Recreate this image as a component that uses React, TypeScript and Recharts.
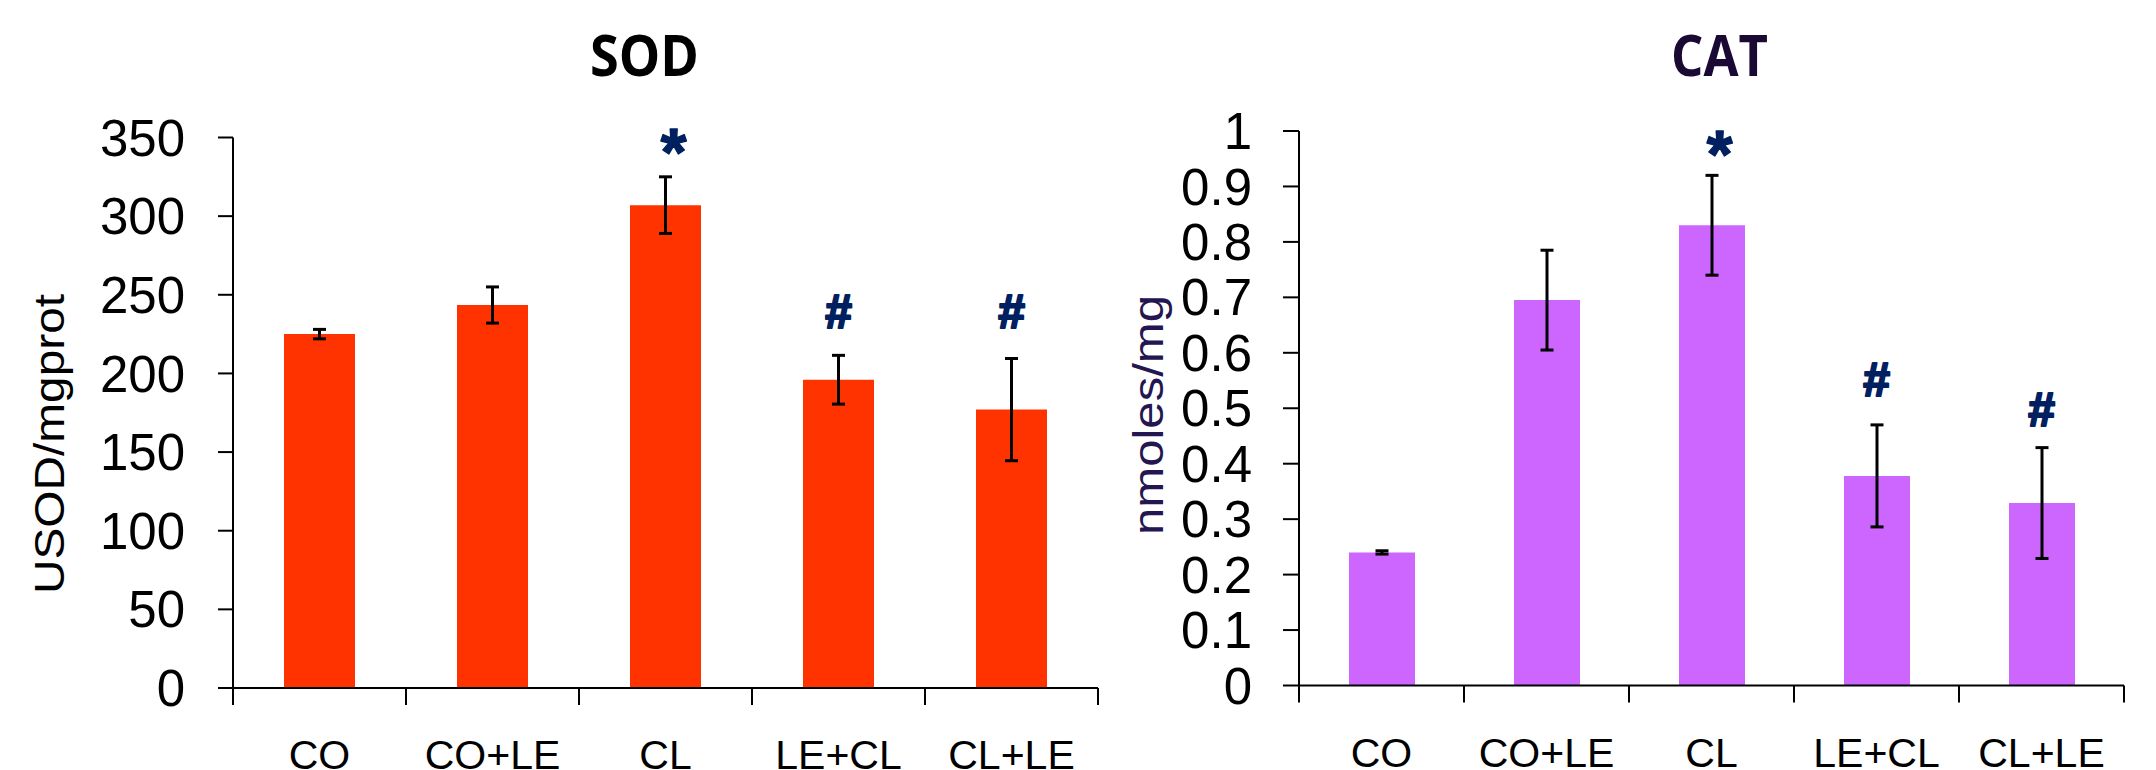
import React from 'react';
import { ComposedChart, Bar, ErrorBar, XAxis, YAxis, Scatter } from 'recharts';

const categories = ['CO', 'CO+LE', 'CL', 'LE+CL', 'CL+LE'];

const sodValues = [225, 243.5, 307, 196, 177];
const sodErrors = [3, 11.5, 18, 15.5, 32.5];
const sodMarks = ['', '', '*', '#', '#'];
const sodMarkLevels = [null, null, 348, 240, 240];
const sodTicks = [0, 50, 100, 150, 200, 250, 300, 350];

const catValues = [0.24, 0.695, 0.83, 0.378, 0.329];
const catErrors = [0.003, 0.09, 0.09, 0.092, 0.1];
const catMarks = ['', '', '*', '#', '#'];
const catMarkLevels = [null, null, 0.979, 0.553, 0.499];
const catTicks = [0, 0.1, 0.2, 0.3, 0.4, 0.5, 0.6, 0.7, 0.8, 0.9, 1];

const FONT = '"Liberation Sans", Arial, Helvetica, sans-serif';

const sodData = categories.map((name, i) => ({
  name,
  value: sodValues[i],
  err: sodErrors[i],
  mark: sodMarks[i],
  markY: sodMarkLevels[i],
}));

const catData = categories.map((name, i) => ({
  name,
  value: catValues[i],
  err: catErrors[i],
  mark: catMarks[i],
  markY: catMarkLevels[i],
}));

const MarkShape = (props: any) => {
  const { cx, cy, payload } = props;
  if (!payload || !payload.mark || cy == null || isNaN(cy)) return <g />;
  const isStar = payload.mark === '*';
  const fs = isStar ? 66 : 48;
  const base = cy + (isStar ? 0.52 * fs : 0.36 * fs);
  return (
    <text
      x={cx + (isStar ? 8 : 0)}
      y={base}
      textAnchor="middle"
      fontSize={fs}
      fontWeight="bold"
      fill="#002060"
      stroke="#002060"
      strokeWidth={isStar ? 1.5 : 2.2}
      strokeLinejoin="round"
      fontFamily={FONT}
    >
      {payload.mark}
    </text>
  );
};

const makeXTick = (count: number, halfBand: number) => (props: any) => {
  const { x, y, payload, index } = props;
  const off = payload && typeof payload.offset === 'number' && payload.offset > 0 ? payload.offset : halfBand;
  return (
    <g>
      <line x1={x - off} y1={y} x2={x - off} y2={y + 17} stroke="#000" strokeWidth={2} />
      {index === count - 1 && <line x1={x + off} y1={y} x2={x + off} y2={y + 17} stroke="#000" strokeWidth={2} />}
      <text x={x} y={y + 81} textAnchor="middle" fontSize={41} fontFamily={FONT} fill="#000">
        {payload.value}
      </text>
    </g>
  );
};

export default function App() {
  return (
    <div style={{ position: 'absolute', left: 0, top: 0, width: 2156, height: 770, background: '#fff', overflow: 'hidden' }}>
      <div style={{ position: 'absolute', left: 0, top: 0 }}>
        <ComposedChart width={1110} height={770} data={sodData} margin={{ top: 137.5, right: 12, bottom: 0, left: 133 }}>
          <XAxis
            dataKey="name"
            height={82}
            tickSize={0}
            tickMargin={0}
            tickLine={false}
            axisLine={{ stroke: '#000', strokeWidth: 2 }}
            tick={makeXTick(categories.length, 86.5)}
            interval={0}
          />
          <YAxis
            width={100}
            domain={[0, 350]}
            ticks={sodTicks}
            tickSize={15}
            tickMargin={33}
            axisLine={{ stroke: '#000', strokeWidth: 2 }}
            tickLine={{ stroke: '#000', strokeWidth: 2 }}
            tick={{ fontSize: 51, fill: '#000', fontFamily: FONT }}
            interval={0}
          />
          <Bar dataKey="value" fill="#FF3300" barSize={71} isAnimationActive={false}>
            <ErrorBar dataKey="err" width={6.5} strokeWidth={3} stroke="#000" direction="y" isAnimationActive={false} />
          </Bar>
          <Scatter dataKey="markY" shape={MarkShape} isAnimationActive={false} />
        </ComposedChart>
      </div>
      <div style={{ position: 'absolute', left: 1150, top: 0 }}>
        <ComposedChart width={1006} height={770} data={catData} margin={{ top: 131, right: 32, bottom: 0, left: 49 }}>
          <XAxis
            dataKey="name"
            height={84.5}
            tickSize={0}
            tickMargin={0}
            tickLine={false}
            axisLine={{ stroke: '#000', strokeWidth: 2 }}
            tick={makeXTick(categories.length, 82.5)}
            interval={0}
          />
          <YAxis
            width={100}
            domain={[0, 1]}
            ticks={catTicks}
            tickSize={16}
            tickMargin={31}
            axisLine={{ stroke: '#000', strokeWidth: 2 }}
            tickLine={{ stroke: '#000', strokeWidth: 2 }}
            tick={{ fontSize: 51, fill: '#000', fontFamily: FONT }}
            interval={0}
          />
          <Bar dataKey="value" fill="#CC66FF" barSize={66} isAnimationActive={false}>
            <ErrorBar dataKey="err" width={6.5} strokeWidth={3} stroke="#000" direction="y" isAnimationActive={false} />
          </Bar>
          <Scatter dataKey="markY" shape={MarkShape} isAnimationActive={false} />
        </ComposedChart>
      </div>
      <svg width={2156} height={770} style={{ position: 'absolute', left: 0, top: 0, pointerEvents: 'none' }}>
        <text x={644.5} y={76} textAnchor="middle" fontFamily='"Open Sans", "Noto Sans", sans-serif' fontWeight="bold" fontSize={57} fill="#000" textLength={109} lengthAdjust="spacingAndGlyphs">
          SOD
        </text>
        <text x={1719.5} y={76} textAnchor="middle" fontFamily='"Open Sans", "Noto Sans", sans-serif' fontWeight="bold" fontSize={57} fill="#1a0a33" textLength={97} lengthAdjust="spacingAndGlyphs">
          CAT
        </text>
        <text transform="translate(64,444) rotate(-90)" textAnchor="middle" fontFamily={FONT} fontSize={42} fill="#000" textLength={300} lengthAdjust="spacingAndGlyphs">
          USOD/mgprot
        </text>
        <text transform="translate(1163,415) rotate(-90)" textAnchor="middle" fontFamily={FONT} fontSize={42} fill="#231651" textLength={240} lengthAdjust="spacingAndGlyphs">
          nmoles/mg
        </text>
      </svg>
    </div>
  );
}
